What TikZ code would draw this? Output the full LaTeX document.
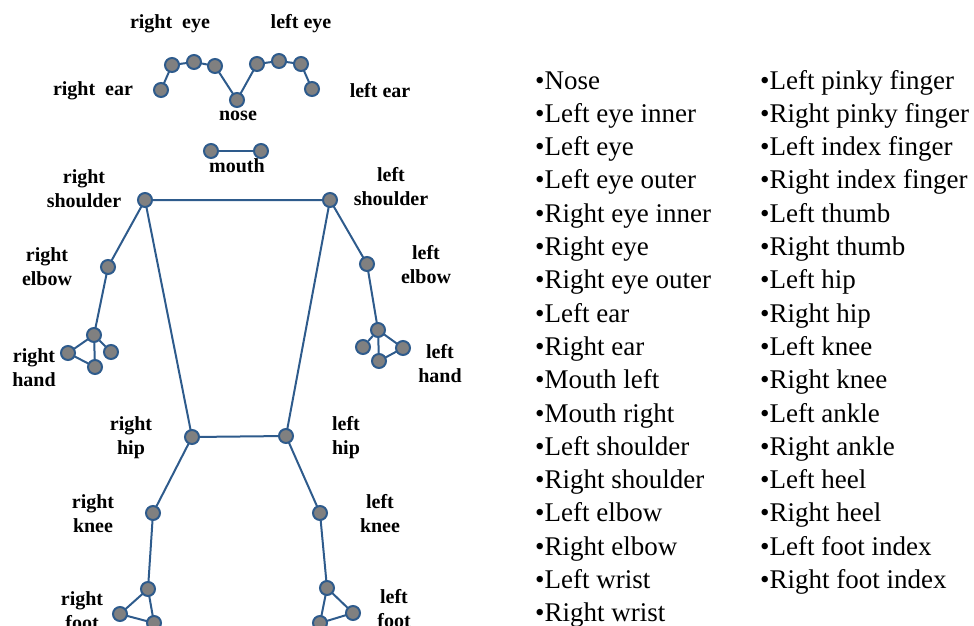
\documentclass[tikz,border=0pt]{standalone}
\usepackage{fontspec}
\setmainfont{Liberation Serif}
\usetikzlibrary{backgrounds}
\definecolor{jointblue}{HTML}{2E5B8C}
\definecolor{jointgray}{HTML}{808080}
\tikzset{
  joint/.style={circle, draw=jointblue, fill=jointgray, line width=2pt, minimum size=14pt, inner sep=0pt},
  bone/.style={draw=jointblue, line width=2pt},
  lbl/.style={font=\fontsize{20}{24}\selectfont\bfseries, align=center, inner sep=0pt},
  item/.style={font=\fontsize{27}{33}\selectfont, anchor=base west, inner sep=0pt}
}
\begin{document}
\begin{tikzpicture}[x=1pt,y=-1pt]
\useasboundingbox (0,0) rectangle (974,625);
% head
\node[joint] (rear) at (161,90) {};
\node[joint] (reo) at (172,65) {};
\node[joint] (re) at (194,62) {};
\node[joint] (rei) at (215,66) {};
\node[joint] (nose) at (237,100) {};
\node[joint] (lei) at (257,64) {};
\node[joint] (le) at (279,61) {};
\node[joint] (leo) at (301,64) {};
\node[joint] (lear) at (312,89) {};
\node[joint] (ml) at (211,151) {};
\node[joint] (mr) at (261,151) {};
% body
\node[joint] (rsh) at (145,200) {};
\node[joint] (lsh) at (330,200) {};
\node[joint] (rel) at (108,267) {};
\node[joint] (lel) at (367,264) {};
\node[joint] (rwr) at (94,335) {};
\node[joint] (rha) at (68,353) {};
\node[joint] (rhb) at (95,367) {};
\node[joint] (rhc) at (111,352) {};
\node[joint] (lwr) at (378,330) {};
\node[joint] (lha) at (363,347) {};
\node[joint] (lhb) at (379,361) {};
\node[joint] (lhc) at (403,348) {};
\node[joint] (rhip) at (192,437) {};
\node[joint] (lhip) at (286,436) {};
\node[joint] (rkn) at (153,513) {};
\node[joint] (lkn) at (320,513) {};
\node[joint] (ran) at (148,589) {};
\node[joint] (rhe) at (120,614) {};
\node[joint] (rfi) at (154,623) {};
\node[joint] (lan) at (327,588) {};
\node[joint] (lhe) at (353,613) {};
\node[joint] (lfi) at (320,623) {};
% bones
\begin{pgfonlayer}{background}
\path[bone] (rear.center) -- (reo.center) -- (re.center) -- (rei.center) -- (nose.center) -- (lei.center) -- (le.center) -- (leo.center) -- (lear.center);
\path[bone] (ml) -- (mr);
\path[bone] (rsh.center) -- (lsh.center) -- (lhip.center) -- (rhip.center) -- cycle;
\path[bone] (rsh.center) -- (rel.center) -- (rwr.center);
\path[bone] (rwr.center) -- (rha.center) -- (rhb.center) -- cycle;
\path[bone] (rwr) -- (rhc);
\path[bone] (lsh.center) -- (lel.center) -- (lwr.center);
\path[bone] (lwr) -- (lha);
\path[bone] (lwr.center) -- (lhb.center) -- (lhc.center) -- cycle;
\path[bone] (rhip.center) -- (rkn.center) -- (ran.center);
\path[bone] (ran.center) -- (rhe.center) -- (rfi.center) -- cycle;
\path[bone] (lhip.center) -- (lkn.center) -- (lan.center);
\path[bone] (lan.center) -- (lhe.center) -- (lfi.center) -- cycle;
\end{pgfonlayer}
% labels
\node[lbl] (t1) at (170,24) {right\ \ eye};
\node[lbl] (t2) at (301,24) {left eye};
\node[lbl] (t3) at (93,91) {right\ \ ear};
\node[lbl] (t4) at (380,91) {left ear};
\node[lbl] (t5) at (238,116) {nose};
\node[lbl] (t6) at (237,166) {mouth};
\node[lbl] (t7) at (84,189) {right\\shoulder};
\node[lbl] (t8) at (391,187) {left\\shoulder};
\node[lbl] (t9) at (47,267) {right\\elbow};
\node[lbl] (t10) at (426,265) {left\\elbow};
\node[lbl] (t11) at (34,368) {right\\hand};
\node[lbl] (t12) at (440,364) {left\\hand};
\node[lbl] (t13) at (131,438) {right\\hip};
\node[lbl] (t14) at (346,438) {left\\hip};
\node[lbl] (t15) at (93,514) {right\\knee};
\node[lbl] (t16) at (380,514) {left\\knee};
\node[lbl] (t17) at (82,611) {right\\foot};
\node[lbl] (t18) at (394,609) {left\\foot};
% list
\foreach \t [count=\i from 0] in {Nose,Left eye inner,Left eye,Left eye outer,Right eye inner,Right eye,Right eye outer,Left ear,Right ear,Mouth left,Mouth right,Left shoulder,Right shoulder,Left elbow,Right elbow,Left wrist,Right wrist}
  \node[item] (a\i) at (535,89+33.3*\i) {\textbullet\t};
\foreach \t [count=\i from 0] in {Left pinky finger,Right pinky finger,Left index finger,Right index finger,Left thumb,Right thumb,Left hip,Right hip,Left knee,Right knee,Left ankle,Right ankle,Left heel,Right heel,Left foot index,Right foot index}
  \node[item] (b\i) at (760,89+33.3*\i) {\textbullet\t};
\end{tikzpicture}
\end{document}
